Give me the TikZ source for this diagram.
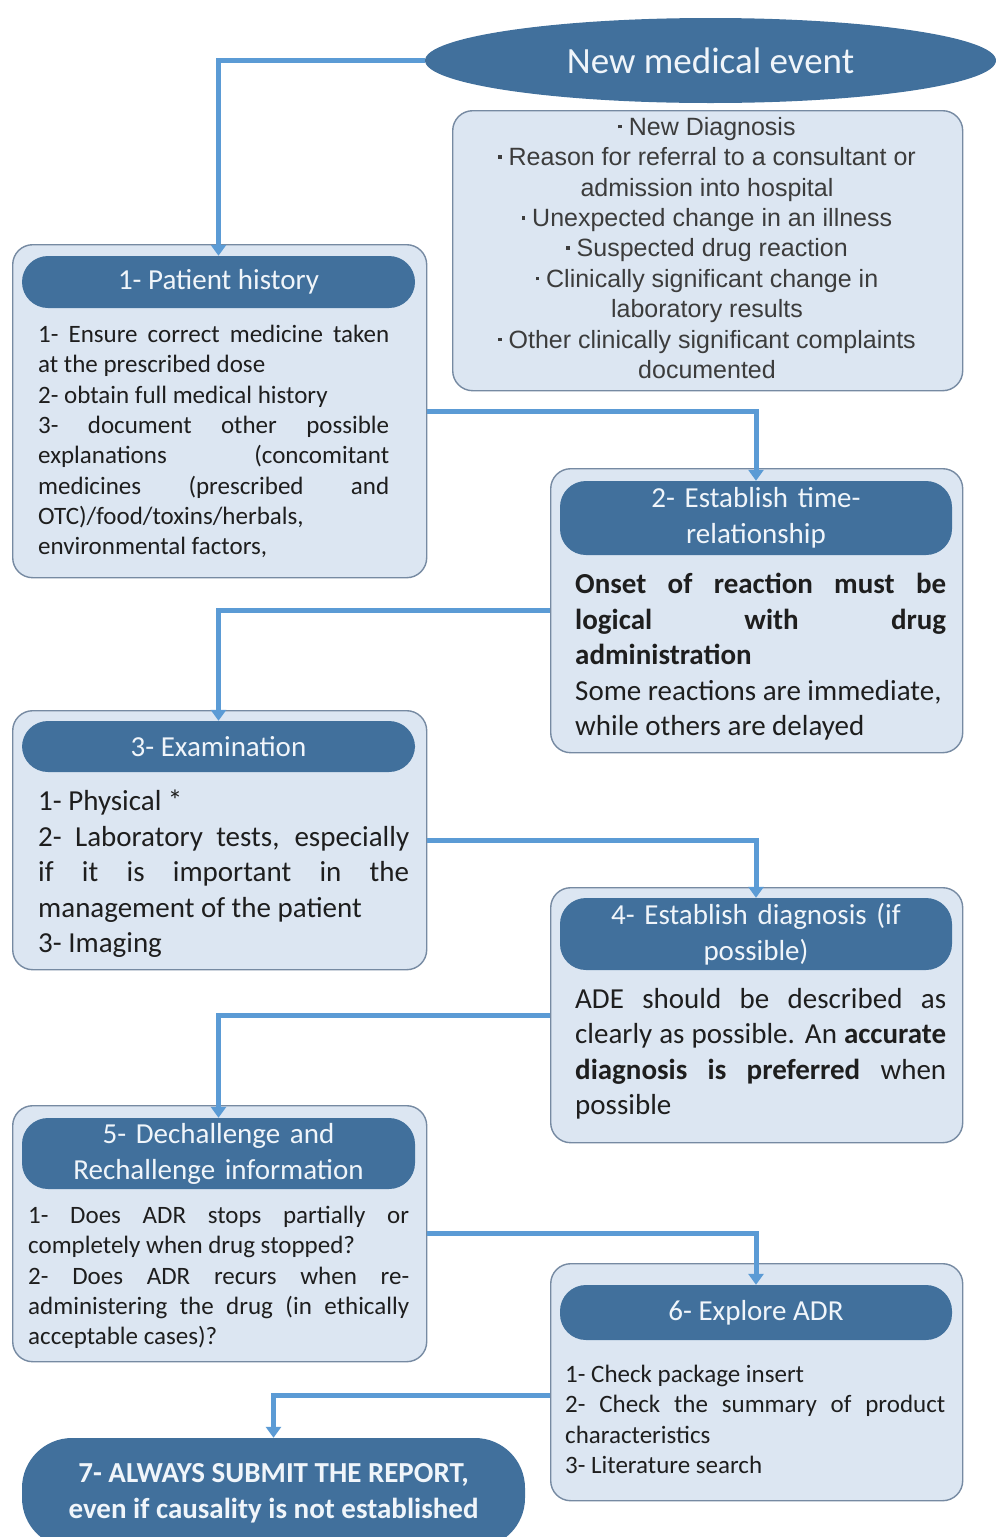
\documentclass[tikz,border=0pt]{standalone}
\usepackage{fontspec}
\setmainfont{Carlito}
\newfontfamily\listfont{Liberation Sans}
\usetikzlibrary{shapes.geometric,arrows.meta}
\definecolor{hdrblue}{RGB}{65,112,156}
\definecolor{panelfill}{RGB}{220,230,242}
\definecolor{panelline}{RGB}{118,138,162}
\definecolor{linkblue}{RGB}{91,155,213}
\definecolor{bodytext}{RGB}{30,30,30}
\definecolor{listtext}{RGB}{60,60,60}
\definecolor{hdrtext}{RGB}{240,245,250}
\setlength{\parindent}{0pt}
\hyphenpenalty=10000
\exhyphenpenalty=10000
\hbadness=10000
\vbadness=10000
% small raised dot used in front of each trigger
\newcommand{\trigdot}{\raisebox{0.28em}{\rule{3.5pt}{3.5pt}}\ }
\begin{document}
\begin{tikzpicture}[x=1pt,y=-1pt,
  panel/.style={draw=panelline, line width=1.4pt, fill=panelfill,
    rounded corners=20pt, inner sep=0pt, anchor=north west},
  header/.style={fill=hdrblue, text=hdrtext, rounded corners=26pt,
    inner sep=0pt, align=center, font=\fontsize{29}{36}\selectfont},
  body/.style={anchor=north west, inner sep=0pt, align=justify, text=bodytext},
  bodysmall/.style={body, font=\fontsize{25}{30.3}\selectfont},
  bodylarge/.style={body, font=\fontsize{29}{35.5}\selectfont},
  link/.style={draw=linkblue, line width=5pt,
    -{Triangle[width=15pt,length=11pt]}}]

\useasboundingbox (0,0) rectangle (996,1537);
\fill[white] (0,0) rectangle (996,1537);

% starting event
\node[ellipse, fill=hdrblue, text=hdrtext, minimum width=571pt,
  minimum height=85pt, inner sep=0pt, font=\fontsize{37}{44}\selectfont]
  (ev) at (710.5,60.5) {New medical event};

% triggers
\node[panel, minimum width=510pt, minimum height=280pt] (trig) at (452,110) {};
\node[anchor=north, inner sep=0pt, align=center, text=listtext,
  font=\listfont\fontsize{25}{30.4}\selectfont] (trigtext) at (707,117)
  {\trigdot New Diagnosis\\
   \trigdot Reason for referral to a consultant or\\
   admission into hospital\\
   \trigdot Unexpected change in an illness\\
   \trigdot Suspected drug reaction\\
   \trigdot Clinically significant change in\\
   laboratory results\\
   \trigdot Other clinically significant complaints\\
   documented};

% step 1
\node[panel, minimum width=414pt, minimum height=333pt] (b1) at (12,244) {};
\node[header, minimum width=393pt, minimum height=52pt] (h1) at (218.5,282)
  {1- Patient history};
\node[bodysmall, text width=351pt] (t1) at (38,325)
  {1- Ensure correct medicine taken\linebreak at the prescribed dose\par
   2- obtain full medical history\par
   3- document other possible\linebreak explanations (concomitant\linebreak
   medicines (prescribed and\linebreak OTC)/food/toxins/herbals,\newline
   environmental factors,};

% step 2
\node[panel, minimum width=412pt, minimum height=284pt] (b2) at (550,468) {};
\node[header, minimum width=392pt, minimum height=74pt, text width=370pt]
  (h2) at (756,518) {2- Establish time-\\relationship};
\node[bodylarge, text width=371pt] (t2) at (575,573)
  {\textbf{Onset of reaction must be\linebreak logical with drug\linebreak
   administration}\par
   Some reactions are immediate,\newline while others are delayed};

% step 3
\node[panel, minimum width=414pt, minimum height=259pt] (b3) at (12,710) {};
\node[header, minimum width=393pt, minimum height=51pt] (h3) at (218.5,746.5)
  {3- Examination};
\node[bodylarge, text width=371pt] (t3) at (38,790)
  {1- Physical *\par
   2- Laboratory tests, especially\linebreak if it is important in the\linebreak
   management of the patient\par
   3- Imaging};

% step 4
\node[panel, minimum width=412pt, minimum height=255pt] (b4) at (550,887) {};
\node[header, minimum width=392pt, minimum height=72pt, text width=370pt]
  (h4) at (756,934) {4- Establish diagnosis (if\\possible)};
\node[bodylarge, text width=371pt] (t4) at (575,988)
  {ADE should be described as\linebreak clearly as possible. An
   \textbf{accurate\linebreak diagnosis is preferred} when\linebreak possible};

% step 5
\node[panel, minimum width=414pt, minimum height=256pt] (b5) at (12,1105) {};
\node[header, minimum width=393pt, minimum height=71pt, text width=370pt]
  (h5) at (218.5,1153.5) {5- Dechallenge and\\Rechallenge information};
\node[bodysmall, text width=381pt] (t5) at (28,1206)
  {1- Does ADR stops partially or\linebreak completely when drug stopped?\par
   2- Does ADR recurs when re-\linebreak administering the drug (in ethically\linebreak
   acceptable cases)?};

% step 6
\node[panel, minimum width=412pt, minimum height=237pt] (b6) at (550,1263) {};
\node[header, minimum width=392pt, minimum height=55pt] (h6) at (756,1312.5)
  {6- Explore ADR};
\node[bodysmall, text width=380pt] (t6) at (565,1365)
  {1- Check package insert\par
   2- Check the summary of product\linebreak characteristics\par
   3- Literature search};

% step 7
\node[header, minimum width=503pt, minimum height=110pt, rounded corners=50pt,
  font=\bfseries\fontsize{29}{36}\selectfont] (h7) at (273.5,1493)
  {7- ALWAYS SUBMIT THE REPORT,\\even if causality is not established};

% flow
\draw[link] (ev.west) -| (h1.north);
\draw[link] (b1.east) -| (h2.north);
\draw[link] (b2.west) -| (h3.north);
\draw[link] (b3.east) -| (h4.north);
\draw[link] (b4.west) -| (h5.north);
\draw[link] (b5.east) -| (h6.north);
\draw[link] ([yshift=-13.5pt]b6.west) -| (h7.north);
\end{tikzpicture}
\end{document}
